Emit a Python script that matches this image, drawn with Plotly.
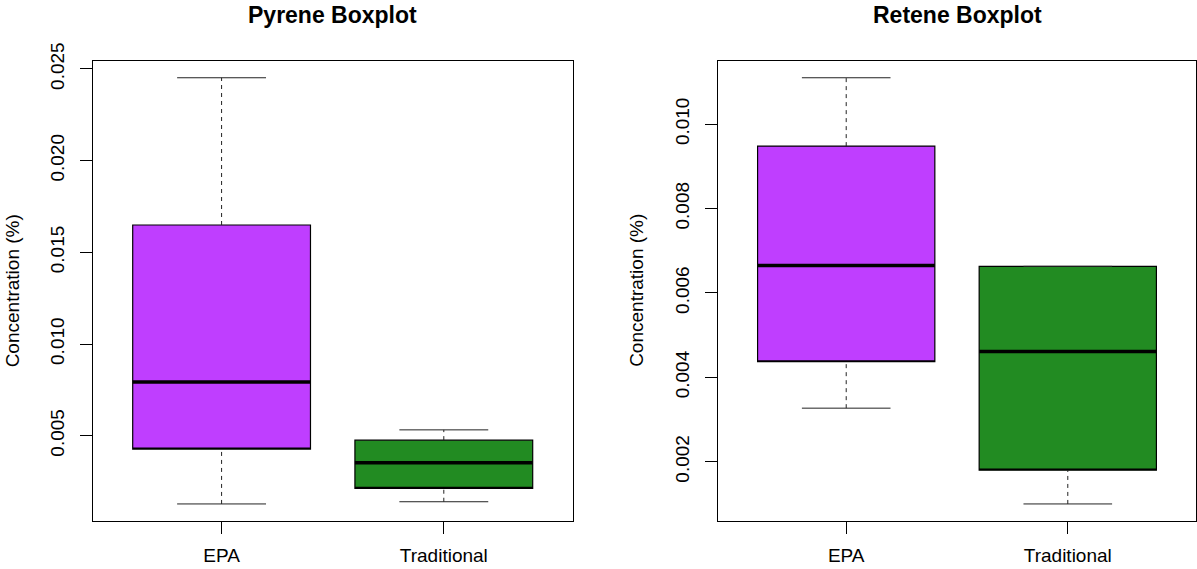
import plotly.graph_objects as go

# 그룹 이름
groups = ["EPA", "Traditional"]

# Pyrene 박스플롯 요약값 (whisker 하단, Q1, 중앙값, Q3, whisker 상단)
pyrene_lo = [0.00128, 0.00140]
pyrene_q1 = [0.00427, 0.00213]
pyrene_med = [0.00793, 0.00353]
pyrene_q3 = [0.01649, 0.00476]
pyrene_hi = [0.02452, 0.00532]

# Retene 박스플롯 요약값
retene_lo = [0.00327, 0.00100]
retene_q1 = [0.00437, 0.00180]
retene_med = [0.00665, 0.00461]
retene_q3 = [0.00948, 0.00663]
retene_hi = [0.01110, 0.00663]

# 눈금
pyrene_ticks = [0.005, 0.010, 0.015, 0.020, 0.025]
retene_ticks = [0.002, 0.004, 0.006, 0.008, 0.010]

colors = ["#BF3EFF", "#228B22"]
FONT = "Liberation Sans"
BOXW = 0.8

W, H = 1197, 569


def px(x):
    return x / W


def py(y):
    return 1 - y / H


fig = go.Figure()


def add_boxes(lo, q1, med, q3, hi, xa, ya):
    pos = [i + 1 for i in range(len(groups))]
    for i, p in enumerate(pos):
        # 상자 (whisker는 따로 그림)
        fig.add_trace(go.Box(x=[p], q1=[q1[i]], median=[q1[i]], q3=[q3[i]],
                             lowerfence=[q1[i]], upperfence=[q3[i]],
                             width=BOXW, fillcolor=colors[i],
                             line=dict(color="black", width=1.2),
                             boxpoints=False, xaxis=xa, yaxis=ya,
                             showlegend=False, hoverinfo="skip"))
        # 점선 whisker
        fig.add_trace(go.Scatter(x=[p, p, None, p, p],
                                 y=[q3[i], hi[i], None, lo[i], q1[i]],
                                 mode="lines", line=dict(color="#222222", width=1, dash="4px,4px"),
                                 xaxis=xa, yaxis=ya, showlegend=False, hoverinfo="skip"))
        # whisker 끝 가로선
        fig.add_trace(go.Scatter(x=[p - BOXW / 4, p + BOXW / 4, None, p - BOXW / 4, p + BOXW / 4],
                                 y=[hi[i], hi[i], None, lo[i], lo[i]],
                                 mode="lines", line=dict(color="#222222", width=1),
                                 xaxis=xa, yaxis=ya, showlegend=False, hoverinfo="skip"))
        # 중앙값 굵은 선
        fig.add_trace(go.Scatter(x=[p - BOXW / 2, p + BOXW / 2], y=[med[i], med[i]],
                                 mode="lines", line=dict(color="black", width=3.5),
                                 xaxis=xa, yaxis=ya, showlegend=False, hoverinfo="skip"))


add_boxes(pyrene_lo, pyrene_q1, pyrene_med, pyrene_q3, pyrene_hi, "x", "y")
add_boxes(retene_lo, retene_q1, retene_med, retene_q3, retene_hi, "x2", "y2")


def rng(lo, hi):
    a, b = min(lo), max(hi)
    pad = 0.04 * (b - a)
    return [a - pad, b + pad]


axis_common = dict(showgrid=False, zeroline=False, showline=True, mirror=True, automargin=False,
                   linecolor="black", linewidth=1, ticks="outside", ticklen=12,
                   tickcolor="black", tickfont=dict(family=FONT, size=19, color="black"))

xdom1 = [px(92.7), px(572.7)]
xdom2 = [px(717.7), px(1196.3)]
ydom = [py(521), py(60.7)]

fig.update_layout(
    width=W, height=H,
    margin=dict(l=0, r=0, t=0, b=0),
    paper_bgcolor="white", plot_bgcolor="white",
    xaxis=dict(domain=xdom1, range=[0.42, 2.58], tickvals=[1, 2], ticktext=groups,
               anchor="y", ticklabelstandoff=5, **axis_common),
    yaxis=dict(domain=ydom, range=rng(pyrene_lo, pyrene_hi), tickvals=pyrene_ticks,
               ticktext=[f"{v:.3f}" for v in pyrene_ticks], tickangle=-90, anchor="x",
               ticklabelstandoff=8, **axis_common),
    xaxis2=dict(domain=xdom2, range=[0.42, 2.58], tickvals=[1, 2], ticktext=groups,
                anchor="y2", ticklabelstandoff=5, **axis_common),
    yaxis2=dict(domain=ydom, range=rng(retene_lo, retene_hi), tickvals=retene_ticks,
                ticktext=[f"{v:.3f}" for v in retene_ticks], tickangle=-90, anchor="x2",
                ticklabelstandoff=8, **axis_common),
)

# 제목과 y축 이름
for dom, title in [(xdom1, "Pyrene Boxplot"), (xdom2, "Retene Boxplot")]:
    fig.add_annotation(text=title, x=sum(dom) / 2, y=py(15), xref="paper", yref="paper",
                       xanchor="center", yanchor="middle", showarrow=False,
                       font=dict(family=FONT, size=23, color="black", weight="bold"))
for lx in [px(12.5), px(637)]:
    fig.add_annotation(text="Concentration (%)", x=lx, y=sum(ydom) / 2,
                       xref="paper", yref="paper", xanchor="center", yanchor="middle",
                       textangle=-90, showarrow=False,
                       font=dict(family=FONT, size=19, color="black"))

# body 기본 여백(8px) 제거, 툴바 숨김
fig.write_html("out.html", config={"displayModeBar": False},
               post_script="document.body.style.margin = '0';")
